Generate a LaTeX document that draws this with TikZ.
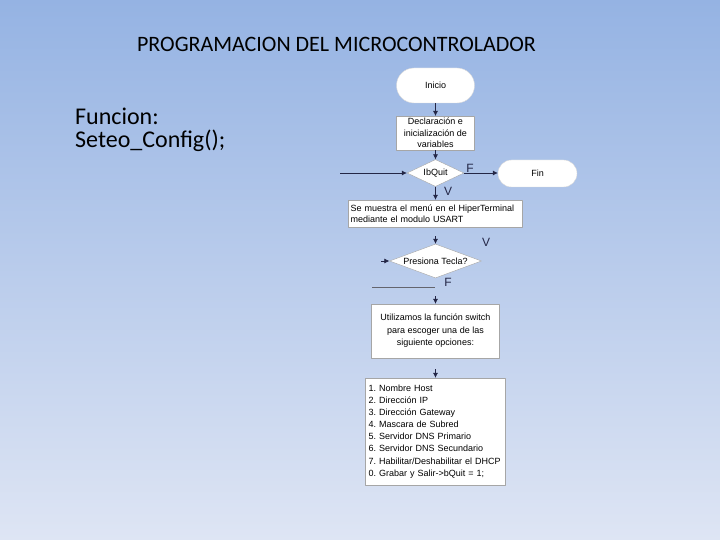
\documentclass[tikz,border=0pt]{standalone}
\usepackage{fontspec}
\setmainfont{Carlito}
\newfontfamily\flowfont{Liberation Sans}
\usetikzlibrary{shapes.geometric,shapes.misc,arrows.meta}

\definecolor{slidetop}{RGB}{149,179,227}
\definecolor{slidebot}{RGB}{222,229,244}
\definecolor{flowline}{RGB}{35,38,70}

\frenchspacing
\begin{document}
\begin{tikzpicture}[
		x=1pt, y=-1pt,
		font=\flowfont\fontsize{9}{11.5}\selectfont,
		line join=round,
		>={Latex[length=5pt,width=5pt]},
		terminal/.style={rounded rectangle, fill=white, draw=white!85!black, inner sep=0pt},
		process/.style={rectangle, fill=white, draw=gray!70, inner sep=2pt},
		decision/.style={diamond, fill=white, draw=gray!70, inner sep=0pt},
		flow/.style={->, flowline, line width=0.6pt},
		tf/.style={font=\flowfont\fontsize{12}{13}\selectfont, flowline}
		]
		
		\useasboundingbox (0,0) rectangle (720,540);
		\fill[top color=slidetop, bottom color=slidebot] (0,0) rectangle (720,540);
		
		\node[font=\fontsize{22}{24}\selectfont, anchor=base] (titulo) at (336.5,52) 
		{PROGRAMACION DEL MICROCONTROLADOR};
		\node[font=\fontsize{24}{23}\selectfont, anchor=base west, align=left, inner sep=0pt] 
		(funcion) at (75,148) {Funcion:\\Seteo\_Config();};
		
		% diagrama de flujo
		\node[terminal, minimum width=78pt, minimum height=35pt] (inicio) at (435.5,85.5) {Inicio};
		\node[process, minimum width=78pt, minimum height=32pt, align=center] (decl) at (435.5,133) 
		{Declaración e\\inicialización de\\variables};
		\node[decision, minimum width=57pt, minimum height=27pt, aspect=2.1] (ibquit) at (435.5,173) {IbQuit};
		\node[terminal, minimum width=79pt, minimum height=27pt] (fin) at (537.5,173.5) {Fin};
		\node[process, minimum width=174pt, minimum height=27pt, text width=170pt, align=left] 
		(menu) at (435.5,213.5) {Se muestra el menú en el HiperTerminal\\mediante el modulo USART};
		\node[decision, minimum width=92pt, minimum height=34pt, aspect=2.65] (tecla) at (435.5,261) 
		{Presiona Tecla?};
		\node[process, minimum width=128pt, minimum height=54pt, align=center, 
		font=\flowfont\fontsize{9}{12.5}\selectfont] (switch) at (435.5,331) 
		{Utilizamos la función switch\\para escoger una de las\\siguiente opciones:};
		\node[process, minimum width=140pt, minimum height=107pt, text width=134pt, align=left, 
		font=\flowfont\fontsize{9}{12.1}\selectfont] (lista) at (435.5,431.5) 
		{1. Nombre Host\\2. Dirección IP\\3. Dirección Gateway\\
			4. Mascara de Subred\\5. Servidor DNS Primario\\6. Servidor DNS Secundario\\
			7. Habilitar/Deshabilitar el DHCP\\0. Grabar y Salir->bQuit = 1;};
		
		\coordinate (retorno) at (340,173);
		\coordinate (entrada) at (381,261);
		\coordinate (ramaA) at (372,287);
		\coordinate (ramaB) at (435,287);
		\coordinate (cabezaA) at (435.5,236);
		\coordinate (cabezaB) at (435.5,296);
		\coordinate (cabezaC) at (435.5,369);
		
		\draw[flow] (inicio) -- (decl);
		\draw[flow] (decl) -- (ibquit);
		\draw[flow] (retorno) -- (ibquit.west);
		\draw[flow] (ibquit.east) -- (ibquit.east -| fin.west);
		\draw[flow] (ibquit.south) -- (menu.north);
		\draw[flow] (cabezaA) -- (tecla.north);
		\draw[flow] (entrada) -- (tecla.west);
		\draw[gray!70!flowline, line width=0.6pt] (ramaA) -- (ramaB);
		\draw[flow] (cabezaB) -- (switch.north);
		\draw[flow] (cabezaC) -- (lista.north);
		
		\node[tf] (fA) at (470,168) {F};
		\node[tf] (vA) at (448,191) {V};
		\node[tf] (vB) at (486,242) {V};
		\node[tf] (fB) at (448,282) {F};
		
	\end{tikzpicture}
\end{document}
